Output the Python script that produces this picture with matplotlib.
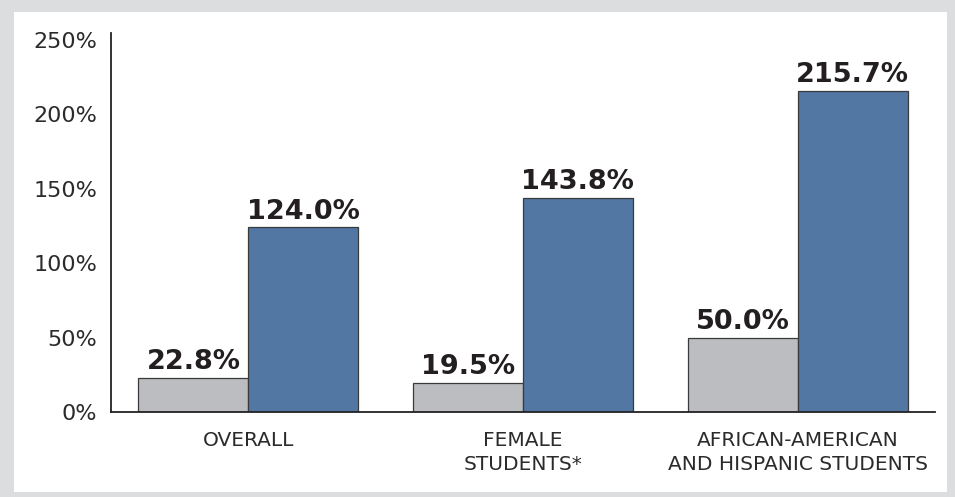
import matplotlib
matplotlib.use("Agg")
import matplotlib.pyplot as plt
from matplotlib.patches import Rectangle
import numpy as np

categories = ["OVERALL", "FEMALE\nSTUDENTS*", "AFRICAN-AMERICAN\nAND HISPANIC STUDENTS"]
before = [22.8, 19.5, 50.0]
after = [124.0, 143.8, 215.7]
yticks = [0, 50, 100, 150, 200, 250]

GRAY = "#bcbdc0"
BLUE = "#5277a3"
EDGE = "#3a3a3a"
TEXT = "#231f20"

plt.rcParams["font.family"] = "DejaVu Sans"

W, H = 955, 497
fig = plt.figure(figsize=(W / 100, H / 100), dpi=100)

# light grey frame round the whole chart
fig.patches.append(Rectangle((0, 0), 1, 1, transform=fig.transFigure,
                             facecolor="#dcdddf", edgecolor="none", zorder=-2))
fig.patches.append(Rectangle((14 / W, 1 - 492 / H), (947 - 14) / W, (492 - 12) / H,
                             transform=fig.transFigure, facecolor="white",
                             edgecolor="none", zorder=-1))

left, right, top, base = 111, 935, 33, 412
ax = fig.add_axes([left / W, 1 - base / H, (right - left) / W, (base - top) / H])
ax.set_facecolor("none")

x = np.arange(len(categories))
w = 0.4
ax.bar(x - w / 2, before, w, color=GRAY, edgecolor=EDGE, linewidth=0.9)
ax.bar(x + w / 2, after, w, color=BLUE, edgecolor=EDGE, linewidth=0.9)

for xs, vals in ((x - w / 2, before), (x + w / 2, after)):
    for xi, v in zip(xs, vals):
        ax.annotate(f"{v:.1f}%", (xi, v), xytext=(0, 2), textcoords="offset points",
                    ha="center", va="bottom", fontsize=19.5, fontweight="bold",
                    color=TEXT)

ax.set_xlim(-0.5, 2.5)
ax.set_ylim(0, 250 * (base - top) / (base - 40))
ax.set_yticks(yticks)
ax.set_yticklabels([f"{t}%" for t in yticks])
ax.tick_params(axis="y", length=0, pad=10, labelsize=16, labelcolor="#2b2b2b")
ax.set_xticks([])

for i, c in enumerate(categories):
    ax.text(x[i], -13, c, ha="center", va="top", fontsize=14.5, color="#2b2b2b",
            linespacing=1.3, transform=ax.transData)

for s in ["top", "right"]:
    ax.spines[s].set_visible(False)
for s in ["left", "bottom"]:
    ax.spines[s].set_color("#222222")
    ax.spines[s].set_linewidth(1.3)

fig.savefig("out.png", dpi=100)
